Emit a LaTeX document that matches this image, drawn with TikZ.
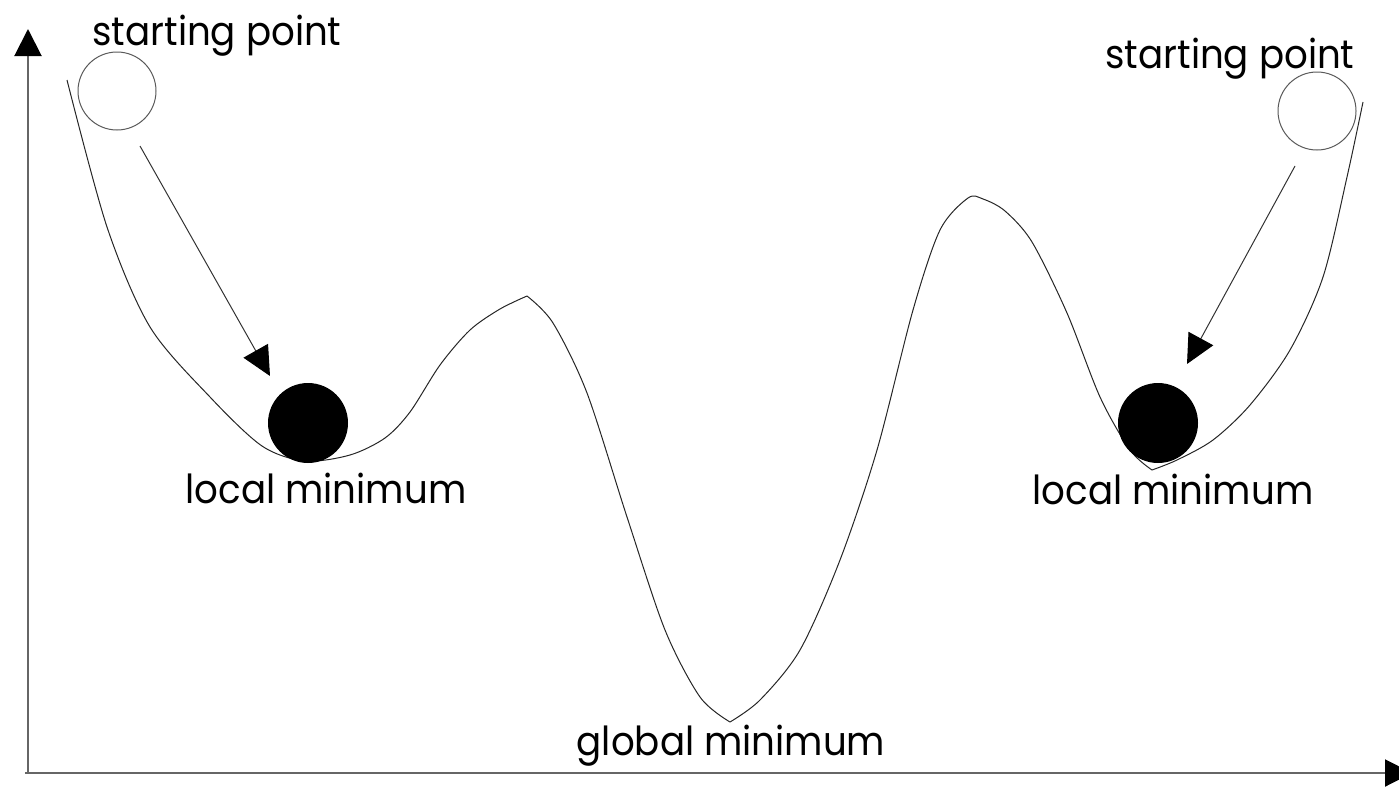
\documentclass[tikz,border=0pt]{standalone}
\usepackage{fontspec}
\setmainfont{Poppins}[FakeStretch=0.93]
\usetikzlibrary{arrows.meta}
\begin{document}
\begin{tikzpicture}[x=1pt,y=-1pt,
  axisline/.style={draw=black!60, line width=2pt, -{Triangle[length=27pt,width=27pt,color=black]}},
  curveline/.style={draw=black!85, line width=1pt},
  openball/.style={circle, draw=black!65, line width=1pt, minimum size=78pt, inner sep=0pt},
  fullball/.style={circle, fill=black, minimum size=80pt, inner sep=0pt},
  lbl/.style={anchor=base, inner sep=0pt, font=\fontsize{40}{44}\selectfont},
  moveline/.style={draw=black!80, line width=1pt, -{Triangle[length=29pt,width=28pt,color=black]}}]
\useasboundingbox (0,0) rectangle (1399,787);
% axes
\coordinate (origin) at (28,773);
\coordinate (ytip) at (28,29);
\coordinate (xtip) at (1412,773);
\coordinate (xstart) at (25,773);
\draw[axisline] (origin) -- (ytip);
\draw[axisline] (xstart) -- (xtip);
% landscape curve
\draw[curveline] plot[smooth] coordinates {(67,80) (107,227) (150,327) (210,397) (262,446) (305,461) (350,455) (385,438) (410,412) (440,365) (470,330) (500,309) (527,296)};
\draw[curveline] plot[smooth] coordinates {(527,296) (553,323) (587,393) (627,517) (665,630) (700,697) (730,722)};
\draw[curveline] plot[smooth] coordinates {(730,722) (760,700) (800,650) (840,560) (877,450) (913,310) (940,230) (968,198) (983,199) (1005,211) (1032,242) (1067,313) (1100,397) (1130,450) (1152,470)};
\draw[curveline] plot[smooth] coordinates {(1152,470) (1177,460) (1213,440) (1250,405) (1290,350) (1323,277) (1347,177) (1363,102)};
% balls
\node[openball] (sp1) at (117,91) {};
\node[openball] (sp2) at (1317,111) {};
\node[fullball] (lm1) at (308,423) {};
\node[fullball] (lm2) at (1158,423) {};
% arrows
\coordinate (a1s) at (140,146);
\coordinate (a1e) at (270,376);
\coordinate (a2s) at (1295,166);
\coordinate (a2e) at (1187,364);
\draw[moveline] (a1s) -- (a1e);
\draw[moveline] (a2s) -- (a2e);
% labels
\node[lbl] (t1) at (217,45) {starting point};
\node[lbl] (t2) at (1230,68) {starting point};
\node[lbl] (t3) at (326,503) {local minimum};
\node[lbl] (t4) at (1173,504) {local minimum};
\node[lbl] (t5) at (731,755) {global minimum};
\end{tikzpicture}
\end{document}
